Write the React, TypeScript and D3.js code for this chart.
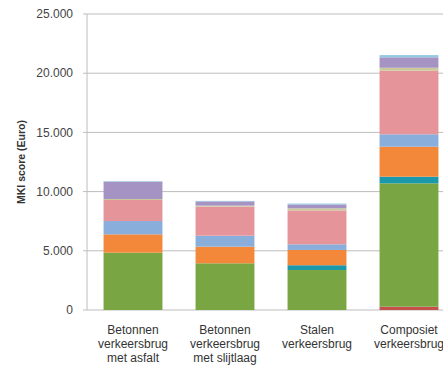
import React from "react";
import * as d3 from "d3";

// Bridge variants
const categories = [
  ["Betonnen", "verkeersbrug", "met asfalt"],
  ["Betonnen", "verkeersbrug", "met slijtlaag"],
  ["Stalen", "verkeersbrug"],
  ["Composiet", "verkeersbrug"],
];

// Stack order, bottom to top
const seriesNames = ["s1", "s2", "s3", "s4", "s5", "s6", "s7", "s8", "s9"];
const seriesColors = [
  "#c4504a",
  "#7aa543",
  "#1b98aa",
  "#f3883a",
  "#8aaedb",
  "#e5959a",
  "#c9c99b",
  "#a593c3",
  "#93c8df",
];

// MKI contribution per series, one value per bridge variant
const s1 = [0, 0, 0, 280];
const s2 = [4840, 3945, 3380, 10420];
const s3 = [0, 0, 400, 560];
const s4 = [1550, 1400, 1290, 2530];
const s5 = [1125, 930, 480, 1050];
const s6 = [1775, 2450, 2860, 5370];
const s7 = [85, 90, 180, 250];
const s8 = [1460, 360, 320, 880];
const s9 = [50, 40, 80, 190];
const seriesValues = [s1, s2, s3, s4, s5, s6, s7, s8, s9];

const yTicks = [0, 5000, 10000, 15000, 20000, 25000];
const yLabel = "MKI score (Euro)";

const W = 443;
const H = 368;

export default function App() {
  const x = d3
    .scaleBand<number>()
    .domain(categories.map((_, i) => i))
    .range([87, 455])
    .paddingInner(0.36)
    .paddingOuter(0.18);
  const y = d3.scaleLinear().domain([0, 25000]).range([310, 14]);

  const nl = d3.formatLocale({
    decimal: ",",
    thousands: ".",
    grouping: [3],
    currency: ["", ""],
  });
  const fmt = nl.format(",");

  const rows = categories.map((_, i) => {
    const r: Record<string, number> = {};
    seriesNames.forEach((n, k) => (r[n] = seriesValues[k][i]));
    return r;
  });
  const stacked = d3.stack<Record<string, number>>().keys(seriesNames)(rows);

  const font = "'Liberation Sans', Arial, sans-serif";

  return (
    <svg
      width={W}
      height={H}
      style={{ position: "fixed", left: 0, top: 0, background: "#fff" }}
      fontFamily={font}
    >
      <rect width={W} height={H} fill="#fff" />
      {yTicks.map((t) => (
        <g key={t}>
          <line x1={83} x2={W} y1={y(t)} y2={y(t)} stroke="#bdbdbd" strokeWidth={1} />
          <text
            x={73}
            y={y(t)}
            dy="0.35em"
            textAnchor="end"
            fontSize={12}
            fill="#444"
          >
            {fmt(t)}
          </text>
        </g>
      ))}
      <line x1={87} x2={87} y1={y(25000)} y2={y(0)} stroke="#bdbdbd" strokeWidth={1} />
      {stacked.map((layer, k) => (
        <g key={layer.key} fill={seriesColors[k]}>
          {layer.map((d, i) =>
            d[1] - d[0] > 0 ? (
              <rect
                key={i}
                x={x(i)}
                width={x.bandwidth()}
                y={y(d[1])}
                height={y(d[0]) - y(d[1])}
              />
            ) : null
          )}
        </g>
      ))}
      {categories.map((lines, i) => (
        <text
          key={i}
          x={(x(i) as number) + x.bandwidth() / 2}
          y={334}
          textAnchor="middle"
          fontSize={12}
          fill="#333"
        >
          {lines.map((l, j) => (
            <tspan key={j} x={(x(i) as number) + x.bandwidth() / 2} dy={j === 0 ? 0 : 14}>
              {l}
            </tspan>
          ))}
        </text>
      ))}
      <text
        transform={`translate(25,162) rotate(-90)`}
        textAnchor="middle"
        fontSize={10.5}
        fontWeight="bold"
        fill="#333"
      >
        {yLabel}
      </text>
    </svg>
  );
}
